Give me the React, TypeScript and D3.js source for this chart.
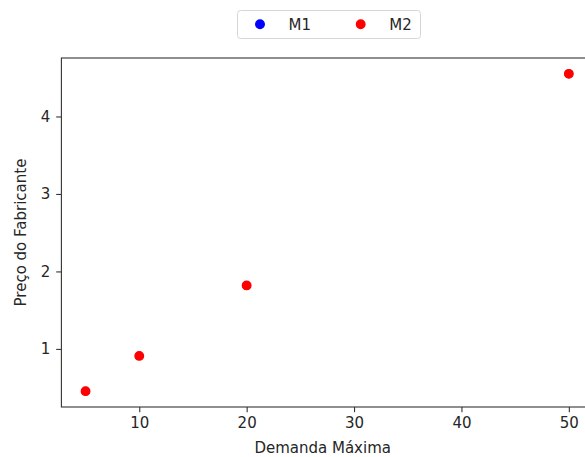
import React, { useEffect, useRef } from 'react'
import * as d3 from 'd3'

// dados
const demanda = [5, 10, 20, 50]
const precoM1 = [0.455, 0.91, 1.82, 4.55]
const precoM2 = [0.455, 0.91, 1.82, 4.55]
const xTicks = [10, 20, 30, 40, 50]
const yTicks = [1, 2, 3, 4]
const series = [
    { name: 'M1', color: '#0000ff', values: precoM1 },
    { name: 'M2', color: '#ff0000', values: precoM2 },
]

const W = 585
const H = 457
const left = 61.4, right = 593, top = 58, bottom = 407
const font = 'DejaVu Sans, sans-serif'

const App = () => {
    const ref = useRef<SVGSVGElement>(null)

    useEffect(() => {
        const svg = d3.select(ref.current)
        svg.selectAll('*').remove()

        // margens de 5% como no matplotlib
        const xr = d3.extent(demanda) as [number, number]
        const xm = (xr[1] - xr[0]) * 0.05
        const allY = precoM1.concat(precoM2)
        const yr = d3.extent(allY) as [number, number]
        const ym = (yr[1] - yr[0]) * 0.05

        const x = d3.scaleLinear().domain([xr[0] - xm, xr[1] + xm]).range([left, right])
        const y = d3.scaleLinear().domain([yr[0] - ym, yr[1] + ym]).range([bottom, top])

        const xAxis = svg.append('g')
            .attr('transform', `translate(0,${bottom})`)
            .call(d3.axisBottom(x).tickValues(xTicks).tickSize(5.2).tickPadding(5).tickFormat(d3.format('d')))
        const yAxis = svg.append('g')
            .attr('transform', `translate(${left},0)`)
            .call(d3.axisLeft(y).tickValues(yTicks).tickSize(5.2).tickPadding(6).tickFormat(d3.format('d')))

        for (const ax of [xAxis, yAxis]) {
            ax.select('.domain').remove()
            ax.selectAll('line').attr('stroke', '#333').attr('stroke-width', 1.1)
            ax.selectAll('text').attr('fill', '#262626').style('font-family', font).style('font-size', '15px')
        }

        // moldura dos eixos
        svg.append('rect')
            .attr('x', left).attr('y', top)
            .attr('width', right - left).attr('height', bottom - top)
            .attr('fill', 'none').attr('stroke', '#333').attr('stroke-width', 1.1)

        // M1 fica escondido embaixo de M2 (mesmos valores)
        series.forEach((s, k) => {
            svg.append('g').selectAll('circle')
                .data(s.values)
                .join('circle')
                .attr('cx', (d, i) => x(demanda[i]))
                .attr('cy', d => y(d))
                .attr('r', k === 0 ? 4 : 4.3)
                .attr('fill', s.color)
                .attr('stroke', k === 0 ? 'none' : s.color)
                .attr('stroke-width', 1.3)
        })

        svg.append('text')
            .attr('x', (left + right) / 2 - 4.5).attr('y', 453)
            .attr('text-anchor', 'middle')
            .attr('fill', '#262626')
            .style('font-family', font).style('font-size', '15px')
            .text('Demanda Máxima')

        svg.append('text')
            .attr('transform', `translate(25.5,${(top + bottom) / 2}) rotate(-90)`)
            .attr('text-anchor', 'middle')
            .attr('fill', '#262626')
            .style('font-family', font).style('font-size', '15px')
            .text('Preço do Fabricante')

        // legenda
        const lg = svg.append('g').attr('transform', 'translate(237,10)')
        lg.append('rect')
            .attr('x', 0.5).attr('y', 0.5).attr('width', 183).attr('height', 28)
            .attr('rx', 3)
            .attr('fill', '#fff').attr('fill-opacity', 0.8)
            .attr('stroke', '#d6d6d6')
        series.forEach((s, i) => {
            const g = lg.append('g').attr('transform', `translate(${23 + i * 100.7},14.3)`)
            g.append('circle').attr('r', 4.3).attr('fill', s.color)
                .attr('stroke', s.color).attr('stroke-width', 1.3)
            g.append('text')
                .attr('x', 28.5).attr('y', 5.5)
                .attr('fill', '#262626')
                .style('font-family', font).style('font-size', '15px')
                .text(s.name)
        })
    }, [])

    return (
        <svg ref={ref} width={W} height={H}
            style={{ position: 'absolute', left: 0, top: 0, background: '#fff' }} />
    )
}

export default App
